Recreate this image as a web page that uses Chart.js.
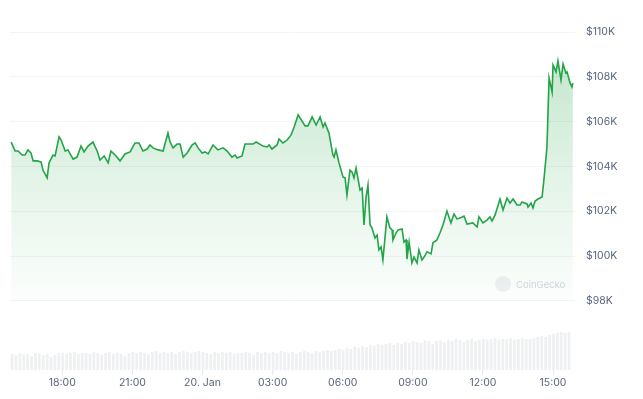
<!DOCTYPE html>
<html>
<head>
<meta charset="utf-8">
<script src="https://cdn.jsdelivr.net/npm/chart.js@4"></script>
<style>
  html, body { margin: 0; padding: 0; background: #fff; }
  #wrap { width: 643px; height: 399px; }
</style>
</head>
<body>
<div id="wrap"><canvas id="myChart" width="643" height="399"></canvas></div>
<script>
// hours relative to 20 Jan 00:00
var priceHours = [-8.19, -8.02, -7.89, -7.72, -7.60, -7.47, -7.34, -7.25, -7.08, -6.91,
    -6.83, -6.65, -6.57, -6.40, -6.31, -6.14, -6.05, -5.88, -5.76, -5.54,
    -5.37, -5.20, -5.07, -4.90, -4.69, -4.51, -4.39, -4.21, -4.04, -3.92,
    -3.74, -3.53, -3.32, -3.10, -2.89, -2.72, -2.55, -2.37, -2.25, -2.12,
    -1.90, -1.69, -1.48, -1.39, -1.26, -1.09, -0.96, -0.83, -0.66, -0.45,
    -0.32, -0.19, -0.02, 0.11, 0.24, 0.45, 0.66, 0.88, 1.05, 1.26,
    1.39, 1.48, 1.69, 1.82, 2.16, 2.29, 2.59, 2.76, 2.85, 2.97,
    3.19, 3.27, 3.44, 3.62, 3.79, 3.92, 4.09, 4.39, 4.51, 4.69,
    4.86, 5.03, 5.16, 5.24, 5.41, 5.58, 5.63, 5.71, 5.84, 6.01,
    6.10, 6.18, 6.31, 6.40, 6.48, 6.57, 6.61, 6.74, 6.83, 6.91,
    7.00, 7.08, 7.17, 7.25, 7.38, 7.47, 7.55, 7.64, 7.72, 7.89,
    8.02, 8.11, 8.15, 8.28, 8.37, 8.54, 8.62, 8.71, 8.75, 8.84,
    8.96, 9.05, 9.18, 9.26, 9.39, 9.48, 9.61, 9.78, 9.86, 10.03,
    10.16, 10.29, 10.46, 10.63, 10.76, 10.89, 11.02, 11.19, 11.32, 11.57,
    11.75, 11.83, 12.00, 12.17, 12.30, 12.39, 12.52, 12.73, 12.86, 13.03,
    13.16, 13.29, 13.46, 13.59, 13.67, 13.89, 13.93, 14.06, 14.14, 14.23,
    14.36, 14.53, 14.61, 14.74, 14.83, 14.96, 15.00, 15.13, 15.21, 15.34,
    15.43, 15.55, 15.60, 15.73, 15.81, 15.85];

// price in thousands of USD
var priceK = [105.09, 104.69, 104.69, 104.51, 104.51, 104.74, 104.60, 104.25, 104.25, 104.20,
    103.84, 103.49, 104.16, 104.51, 104.47, 105.32, 105.18, 104.69, 104.74, 104.33,
    104.42, 104.91, 104.65, 104.91, 105.09, 104.69, 104.29, 104.47, 104.16, 104.69,
    104.51, 104.25, 104.56, 104.65, 105.05, 105.05, 104.69, 104.78, 104.96, 104.83,
    104.74, 104.69, 105.49, 105.09, 104.83, 105.00, 105.00, 104.42, 104.60, 104.96,
    105.05, 104.83, 104.60, 104.65, 104.56, 104.96, 104.74, 104.83, 104.69, 104.42,
    104.51, 104.38, 104.47, 105.00, 105.00, 105.09, 104.91, 104.87, 104.96, 104.78,
    104.96, 105.23, 105.05, 105.18, 105.41, 105.76, 106.30, 105.81, 105.81, 106.21,
    105.85, 106.21, 105.76, 105.94, 105.49, 104.51, 104.42, 104.74, 104.16, 103.53,
    103.49, 102.73, 103.84, 103.75, 103.49, 103.93, 103.93, 102.95, 103.04, 101.39,
    102.64, 103.17, 101.39, 101.26, 100.81, 100.94, 100.28, 100.41, 99.83, 101.75,
    101.26, 101.17, 100.72, 101.03, 101.17, 101.21, 100.63, 100.72, 99.87, 100.63,
    99.70, 99.96, 99.70, 100.28, 99.83, 99.96, 100.19, 100.10, 100.59, 100.72,
    101.03, 101.39, 102.01, 101.48, 101.88, 101.66, 101.70, 101.79, 101.43, 101.48,
    101.30, 101.75, 101.48, 101.61, 101.75, 101.57, 101.84, 102.55, 102.06, 102.59,
    102.37, 102.55, 102.28, 102.28, 102.42, 102.33, 102.19, 102.37, 102.15, 102.46,
    102.55, 102.64, 103.40, 104.87, 107.95, 107.32, 108.53, 108.22, 108.71, 107.86,
    108.57, 108.17, 108.22, 107.72, 107.55, 107.72];

// volume bars, one per 10 minutes, in $M
var volStart = -8.15;
var volStepHours = 1 / 6;
var volumeM = [160, 150, 170, 160, 160, 140, 170, 160, 150, 160, 130, 150, 170,
    170, 160, 170, 180, 160, 170, 170, 160, 180, 170, 150, 170, 180, 160, 170, 160, 140, 170,
    180, 170, 180, 170, 160, 180, 190, 170, 180, 170, 180, 160, 180, 190, 180, 170, 180, 190,
    180, 170, 160, 180, 170, 180, 170, 180, 160, 170, 170, 180, 170, 150, 180, 170, 180, 170,
    180, 170, 190, 180, 170, 180, 160, 180, 190, 180, 170, 190, 180, 190, 200, 190, 200, 210,
    200, 220, 210, 230, 220, 240, 230, 250, 240, 260, 250, 260, 270, 250, 270, 260, 280, 270,
    290, 280, 270, 300, 290, 260, 290, 300, 280, 300, 290, 310, 300, 280, 300, 310, 290, 300,
    310, 300, 310, 320, 300, 310, 310, 320, 300, 310, 320, 310, 310, 320, 330, 340, 330, 350,
    360, 370, 380, 370, 380];

var tickHours = [-6, -3, 0, 3, 6, 9, 12, 15];
var tickLabels = ['18:00', '21:00', '20. Jan', '03:00', '06:00', '09:00', '12:00', '15:00'];
var priceTicks = [98, 100, 102, 104, 106, 108, 110];

var green = '#22a447';
var labelColor = '#58667e';

var pricePoints = [];
for (var i = 0; i < priceHours.length; i++) {
    pricePoints.push({x: priceHours[i], y: priceK[i]});
}
var volPoints = [];
for (var j = 0; j < volumeM.length; j++) {
    volPoints.push({x: volStart + j * volStepHours, y: volumeM[j]});
}

// faint CoinGecko watermark in the lower right of the price area
var watermark = {
    id: 'watermark',
    beforeDatasetsDraw: function (chart) {
        var c = chart.ctx;
        c.save();
        c.fillStyle = '#f0f1f3';
        c.beginPath();
        c.arc(503, 284, 8, 0, Math.PI * 2);
        c.fill();
        c.fillStyle = '#d3d6db';
        c.font = '9.5px Inter, "Noto Sans", sans-serif';
        c.textBaseline = 'middle';
        c.fillText('CoinGecko', 516, 285);
        c.restore();
    }
};

var ctx = document.getElementById('myChart');
var myChart = new Chart(ctx, {
    data: {
        datasets: [{
            type: 'line',
            data: pricePoints,
            yAxisID: 'y',
            borderColor: green,
            borderWidth: 1.6,
            pointRadius: 0,
            tension: 0,
            fill: {value: 98},
            backgroundColor: function (context) {
                var chart = context.chart;
                var area = chart.chartArea;
                if (!area) return 'rgba(34,164,71,0.15)';
                var yScale = chart.scales.y;
                var top = yScale.getPixelForValue(108.7);
                var bottom = yScale.getPixelForValue(98);
                var g = chart.ctx.createLinearGradient(0, top, 0, bottom);
                g.addColorStop(0, 'rgba(34,164,71,0.26)');
                g.addColorStop(0.5, 'rgba(34,164,71,0.12)');
                g.addColorStop(1, 'rgba(34,164,71,0.01)');
                return g;
            },
            order: 1
        }, {
            type: 'bar',
            data: volPoints,
            yAxisID: 'yVol',
            backgroundColor: '#eef0f2',
            barPercentage: 0.7,
            categoryPercentage: 1,
            order: 2
        }]
    },
    options: {
        responsive: false,
        animation: false,
        layout: {padding: {top: 32, left: 10, right: 0, bottom: 0}},
        plugins: {
            legend: {display: false},
            tooltip: {enabled: false}
        },
        scales: {
            x: {
                type: 'linear',
                offset: false,
                min: -8.24,
                max: 15.94,
                afterBuildTicks: function (scale) {
                    scale.ticks = tickHours.map(function (h) { return {value: h}; });
                },
                afterFit: function (scale) { scale.height = 29; },
                grid: {
                    offset: false,
                    drawOnChartArea: false,
                    drawTicks: true,
                    tickLength: 5,
                    color: '#e6e8eb'
                },
                border: {display: false},
                ticks: {
                    color: labelColor,
                    font: {family: 'Inter', size: 10.5},
                    padding: 2,
                    maxRotation: 0,
                    autoSkip: false,
                    callback: function (value) {
                        var k = tickHours.indexOf(value);
                        return k >= 0 ? tickLabels[k] : '';
                    }
                }
            },
            y: {
                position: 'right',
                min: 94.92,
                max: 110,
                afterBuildTicks: function (scale) {
                    scale.ticks = priceTicks.map(function (v) { return {value: v}; });
                },
                afterFit: function (scale) { scale.width = 68; },
                grid: {color: '#f3f4f6', drawTicks: false},
                border: {display: false},
                ticks: {
                    color: labelColor,
                    font: {family: 'Inter', size: 10.5},
                    padding: 11,
                    callback: function (value) { return '$' + value + 'K'; }
                }
            },
            yVol: {
                display: false,
                min: 0,
                max: 3380
            }
        }
    },
    plugins: [watermark]
});
</script>
</body>
</html>
